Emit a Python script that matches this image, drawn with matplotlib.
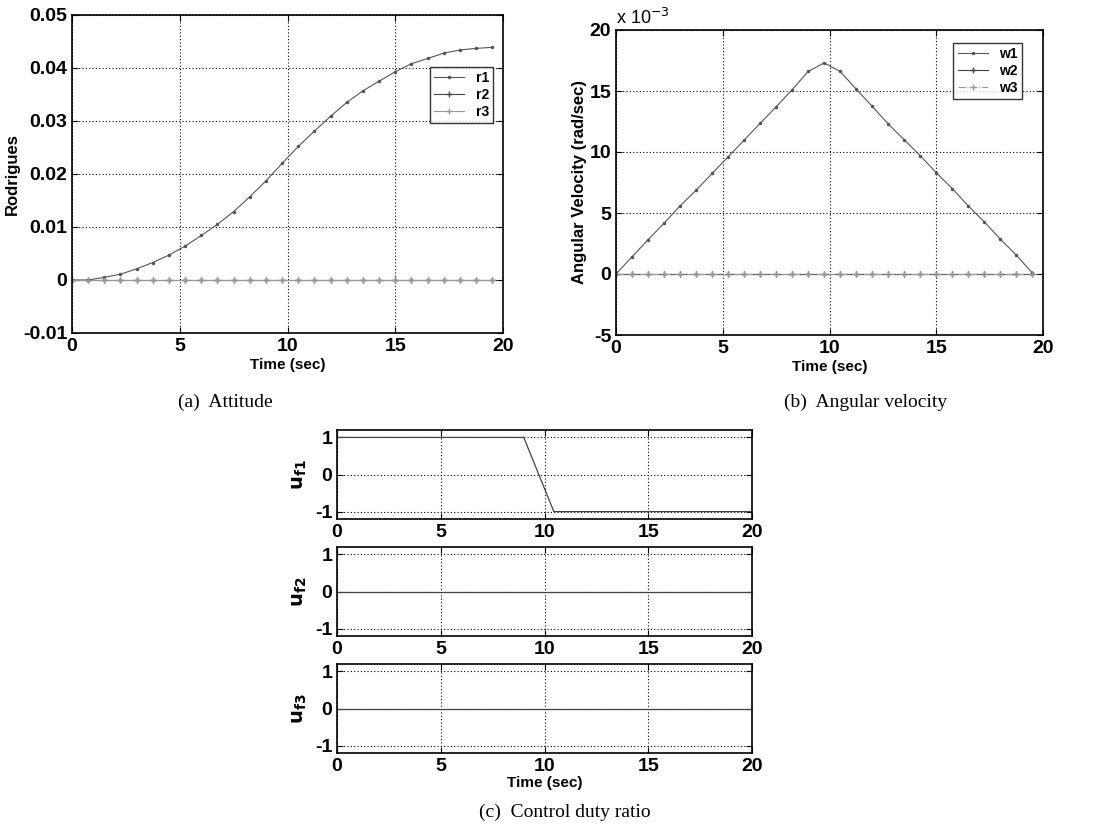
import numpy as np
import matplotlib
matplotlib.use("Agg")
import matplotlib.pyplot as plt
from matplotlib.ticker import FuncFormatter

# attitude (Rodrigues parameters), sampled every 0.75 s
t_r = [0, 0.75, 1.5, 2.25, 3.0, 3.75, 4.5, 5.25, 6.0, 6.75, 7.5, 8.25, 9.0, 9.75,
       10.5, 11.25, 12.0, 12.75, 13.5, 14.25, 15.0, 15.75, 16.5, 17.25, 18.0, 18.75, 19.5]
r1 = [0, 0.0, 0.0005, 0.0011, 0.0021, 0.0033, 0.0047, 0.0064, 0.0084, 0.0105, 0.0129,
      0.0157, 0.0187, 0.0220, 0.0252, 0.0281, 0.0309, 0.0335, 0.0357, 0.0375, 0.0393,
      0.0408, 0.0418, 0.0428, 0.0434, 0.0437, 0.0439]
r2 = [0.0] * len(t_r)
r3 = [0.0] * len(t_r)

# angular velocity (rad/sec)
w1 = [0, 0.00141, 0.0028, 0.00416, 0.00558, 0.00686, 0.00824, 0.0096, 0.01097, 0.01235,
      0.0137, 0.0151, 0.0166, 0.0173, 0.0166, 0.01516, 0.01374, 0.0123, 0.0110, 0.0097,
      0.0083, 0.0070, 0.00558, 0.00427, 0.00286, 0.00155, 0.00008]
w2 = [0.0] * len(t_r)
w3 = [0.0] * len(t_r)

# control duty ratio
t_u = [0, 9.0, 10.45, 20]
uf1 = [1, 1, -1, -1]
t_u0 = [0, 20]
uf2 = [0, 0]
uf3 = [0, 0]

plt.rcParams['font.family'] = ['Liberation Sans', 'DejaVu Sans']
plt.rcParams['axes.unicode_minus'] = False

W, H = 1112, 831
fig = plt.figure(figsize=(W / 100, H / 100), dpi=100)


def px_axes(l, r, t, b):
    return fig.add_axes([l / W, 1 - b / H, (r - l) / W, (b - t) / H])


def style(ax, fs=14):
    ax.grid(True, linestyle=(0, (1, 2)), color='black', linewidth=0.8)
    ax.tick_params(direction='in', top=True, right=True, labelsize=fs, length=4)
    for lab in ax.get_xticklabels() + ax.get_yticklabels():
        lab.set_fontweight('bold')
    for s in ax.spines.values():
        s.set_linewidth(1.2)


fmt = FuncFormatter(lambda v, p: '%g' % round(v, 6))

# (a) attitude
ax = px_axes(72, 503, 15, 333)
ax.plot(t_r, r1, '.-', color='#555555', lw=0.8, ms=3, label='r1')
ax.plot(t_r, r2, '+-', color='#444444', lw=0.8, ms=4, label='r2')
ax.plot(t_r, r3, '+-', color='#999999', lw=0.8, ms=4, label='r3')
ax.set_xlim(0, 20)
ax.set_ylim(-0.01, 0.05)
ax.set_xticks([0, 5, 10, 15, 20])
ax.set_yticks([-0.01, 0, 0.01, 0.02, 0.03, 0.04, 0.05])
ax.yaxis.set_major_formatter(fmt)
style(ax)
ax.set_xlabel('Time (sec)', fontsize=11, fontweight='bold', labelpad=2)
ax.set_ylabel('Rodrigues', fontsize=12, fontweight='bold', labelpad=2)
leg = ax.legend(loc='upper right', bbox_to_anchor=(493 / W, 1 - 67 / H),
                bbox_transform=fig.transFigure, borderaxespad=0, fontsize=10,
                fancybox=False, edgecolor='black', handlelength=2.2,
                labelspacing=0.2, borderpad=0.3)
for tx in leg.get_texts():
    tx.set_fontweight('bold')

# (b) angular velocity
ax = px_axes(616, 1043, 30, 335)
ax.plot(t_r, w1, '.-', color='#555555', lw=0.8, ms=3, label='w1')
ax.plot(t_r, w2, '+-', color='#444444', lw=0.8, ms=4, label='w2')
ax.plot(t_r, w3, '+-.', color='#999999', lw=0.8, ms=4, label='w3')
ax.set_xlim(0, 20)
ax.set_ylim(-0.005, 0.02)
ax.set_xticks([0, 5, 10, 15, 20])
ax.set_yticks([-0.005, 0, 0.005, 0.01, 0.015, 0.02])
ax.yaxis.set_major_formatter(FuncFormatter(lambda v, p: '%g' % round(v * 1e3, 6)))
style(ax)
ax.text(0.0, 1.005, r'x 10$^{-3}$', transform=ax.transAxes, fontsize=13,
        ha='left', va='bottom')
ax.set_xlabel('Time (sec)', fontsize=11, fontweight='bold', labelpad=2)
ax.set_ylabel('Angular Velocity (rad/sec)', fontsize=12, fontweight='bold', labelpad=2)
leg = ax.legend(loc='upper right', bbox_to_anchor=(1022 / W, 1 - 43 / H),
                bbox_transform=fig.transFigure, borderaxespad=0, fontsize=10,
                fancybox=False, edgecolor='black', handlelength=2.2,
                labelspacing=0.2, borderpad=0.3)
for tx in leg.get_texts():
    tx.set_fontweight('bold')

# (c) control duty ratio
panels = [(430, 519, t_u, uf1, r'$\mathbf{u_{f1}}$'),
          (547, 636, t_u0, uf2, r'$\mathbf{u_{f2}}$'),
          (664, 753, t_u0, uf3, r'$\mathbf{u_{f3}}$')]
for i, (top, bot, tt, uu, lab) in enumerate(panels):
    ax = px_axes(337, 752, top, bot)
    ax.plot(tt, uu, '-', color='#444444', lw=0.9)
    ax.set_xlim(0, 20)
    ax.set_ylim(-1.2, 1.2)
    ax.set_xticks([0, 5, 10, 15, 20])
    ax.set_yticks([-1, 0, 1])
    style(ax)
    ax.set_ylabel(lab, fontsize=14, labelpad=4)
    if i == 2:
        ax.set_xlabel('Time (sec)', fontsize=11, fontweight='bold', labelpad=1)

cap = dict(fontsize=14, family=['Liberation Serif', 'DejaVu Serif'], ha='center', va='center')
fig.text(225 / W, 1 - 402 / H, '(a)  Attitude', **cap)
fig.text(866 / W, 1 - 402 / H, '(b)  Angular velocity', **cap)
fig.text(565 / W, 1 - 812 / H, '(c)  Control duty ratio', **cap)

fig.savefig('out.png', dpi=100)
